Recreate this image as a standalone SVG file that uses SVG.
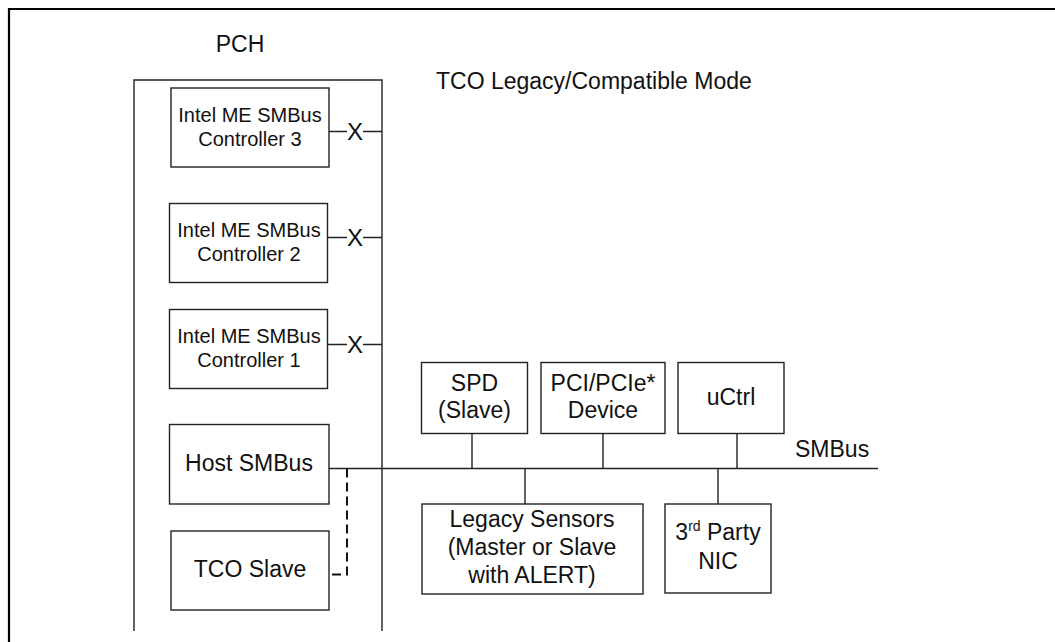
<svg xmlns="http://www.w3.org/2000/svg" width="1055" height="642" viewBox="0 0 1055 642">
<style>
.box{fill:#fff;stroke:#222;stroke-width:1.4}
.ln{fill:none;stroke:#222;stroke-width:1.4}
.t{font-family:"Liberation Sans",Arial,sans-serif;font-size:23px;fill:#111;text-anchor:middle}
.s{font-family:"Liberation Sans",Arial,sans-serif;font-size:20px;fill:#111;text-anchor:middle}
</style>
<rect width="1055" height="642" fill="#fff"/>
<path d="M9,642 V9 H1055" fill="none" stroke="#000" stroke-width="2.2"/>
<text class="t" x="240" y="52">PCH</text>
<text class="t" x="436" y="89" style="text-anchor:start">TCO Legacy/Compatible Mode</text>
<g id="pch"><path class="ln" d="M134,631 V80 H382 V631"/></g>
<g id="ctrl3"><rect class="box" x="171" y="88" width="158" height="79"/><text class="s" x="250" y="122">Intel ME SMBus</text><text class="s" x="250" y="146">Controller 3</text></g>
<g id="ctrl2"><rect class="box" x="169.5" y="203.5" width="158" height="79"/><text class="s" x="249" y="237">Intel ME SMBus</text><text class="s" x="249" y="261">Controller 2</text></g>
<g id="ctrl1"><rect class="box" x="169.5" y="309.5" width="158" height="79"/><text class="s" x="249" y="343">Intel ME SMBus</text><text class="s" x="249" y="367">Controller 1</text></g>
<g id="host"><rect class="box" x="169.5" y="424.5" width="159.5" height="79.5"/><text class="t" x="249" y="471">Host SMBus</text></g>
<g id="tco"><rect class="box" x="171" y="531" width="158" height="79"/><text class="t" x="250" y="577">TCO Slave</text></g>
<g id="spd"><rect class="box" x="421.5" y="362.5" width="106" height="71"/><text class="t" x="474.5" y="391">SPD</text><text class="t" x="474.5" y="418">(Slave)</text></g>
<g id="pci"><rect class="box" x="541" y="362.5" width="124" height="71"/><text class="t" x="603" y="391">PCI/PCIe*</text><text class="t" x="603" y="418">Device</text></g>
<g id="uctrl"><rect class="box" x="678" y="362.5" width="106" height="71"/><text class="t" x="731" y="405">uCtrl</text></g>
<g id="legacy"><rect class="box" x="422" y="504" width="221" height="90"/><text class="t" x="532" y="527">Legacy Sensors</text><text class="t" x="532" y="555">(Master or Slave</text><text class="t" x="532" y="583">with ALERT)</text></g>
<g id="nic"><rect class="box" x="665" y="504" width="106" height="89"/><text class="t" x="718" y="540">3<tspan font-size="14" dy="-9">rd</tspan><tspan dy="9"> Party</tspan></text><text class="t" x="718" y="569">NIC</text></g>
<g id="connectors">
<path class="ln" d="M329,131.5 H347 M363,131.5 H382"/>
<path class="ln" d="M327.5,237.5 H347 M363,237.5 H382"/>
<path class="ln" d="M327.5,344.5 H347 M363,344.5 H382"/>
<text class="t" x="355" y="140" style="font-size:24px">X</text>
<text class="t" x="355" y="246" style="font-size:24px">X</text>
<text class="t" x="355" y="353" style="font-size:24px">X</text>
<path class="ln" d="M329,468.5 H878"/>
<path class="ln" d="M472,433.5 V468.5 M603,433.5 V468.5 M737,433.5 V468.5 M525,468.5 V504 M718,468.5 V504"/>
<path d="M347,468.5 V574.5 H329" fill="none" stroke="#111" stroke-width="2" stroke-dasharray="9,5"/>
<text class="t" x="795" y="457" style="text-anchor:start">SMBus</text>
</g>
</svg>
